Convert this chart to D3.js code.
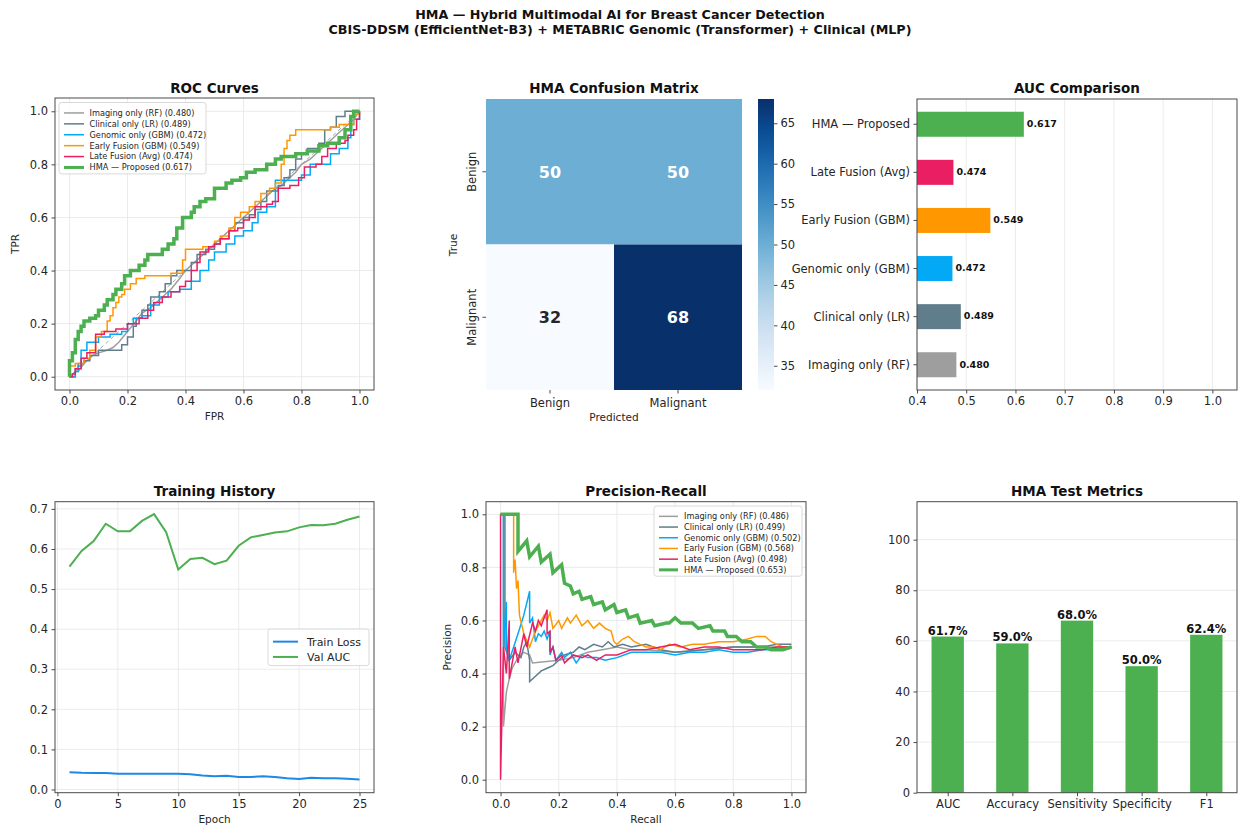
<!DOCTYPE html>
<html>
<head>
<meta charset="utf-8">
<script src="https://cdn.jsdelivr.net/npm/d3@7"></script>
<style>
body { margin: 0; background: #fff; }
svg { display: block; font-family: "DejaVu Sans", sans-serif; }
</style>
</head>
<body>
<svg id="fig" width="1239" height="825"></svg>
<script>
// ---- data ----
var models = ["Imaging only (RF)", "Clinical only (LR)", "Genomic only (GBM)", "Early Fusion (GBM)", "Late Fusion (Avg)", "HMA \u2014 Proposed"];
var modelColors = ["#9e9e9e", "#607d8b", "#03a9f4", "#ff9800", "#e91e63", "#4caf50"];
var rocAuc = [0.480, 0.489, 0.472, 0.549, 0.474, 0.617];
var prAp = [0.486, 0.499, 0.502, 0.568, 0.498, 0.653];

var rocImaging = [[0,0],[0.02,0.02],[0.03,0.02],[0.05,0.05],[0.08,0.08],[0.1,0.09],[0.13,0.1],[0.15,0.11],[0.17,0.13],[0.2,0.17],[0.23,0.21],[0.25,0.24],[0.28,0.26],[0.3,0.28],[0.33,0.31],[0.35,0.33],[0.38,0.37],[0.4,0.4],[0.43,0.43],[0.45,0.45],[0.48,0.48],[0.5,0.5],[0.53,0.53],[0.55,0.55],[0.58,0.58],[0.6,0.6],[0.63,0.63],[0.65,0.65],[0.68,0.68],[0.7,0.7],[0.73,0.72],[0.75,0.74],[0.78,0.77],[0.8,0.8],[0.83,0.82],[0.85,0.84],[0.88,0.87],[0.9,0.89],[0.93,0.92],[0.95,0.94],[0.98,0.97],[1,1]];
var rocClinical = [[0,0],[0.02,0.03],[0.03,0.05],[0.05,0.06],[0.07,0.08],[0.1,0.1],[0.17,0.1],[0.18,0.12],[0.2,0.15],[0.22,0.19],[0.23,0.22],[0.25,0.25],[0.27,0.27],[0.28,0.3],[0.31,0.32],[0.33,0.35],[0.35,0.38],[0.37,0.4],[0.4,0.4],[0.42,0.43],[0.44,0.46],[0.47,0.48],[0.5,0.5],[0.52,0.52],[0.55,0.55],[0.57,0.58],[0.6,0.6],[0.62,0.61],[0.64,0.63],[0.66,0.66],[0.68,0.7],[0.72,0.72],[0.74,0.75],[0.76,0.78],[0.78,0.82],[0.8,0.84],[0.82,0.86],[0.86,0.88],[0.88,0.93],[0.9,0.94],[0.92,0.98],[0.95,1.0],[1,1]];
var rocGenomic = [[0,0],[0.02,0.02],[0.03,0.04],[0.04,0.06],[0.04,0.1],[0.06,0.1],[0.06,0.13],[0.1,0.13],[0.1,0.15],[0.14,0.16],[0.18,0.17],[0.2,0.2],[0.22,0.22],[0.25,0.23],[0.28,0.27],[0.31,0.3],[0.34,0.32],[0.38,0.33],[0.42,0.36],[0.45,0.4],[0.48,0.44],[0.5,0.47],[0.54,0.5],[0.57,0.53],[0.6,0.55],[0.63,0.58],[0.65,0.62],[0.68,0.64],[0.71,0.67],[0.71,0.74],[0.77,0.74],[0.8,0.76],[0.83,0.8],[0.87,0.8],[0.9,0.84],[0.93,0.86],[0.96,0.9],[0.97,0.95],[0.98,0.97],[1,1]];
var rocEarly = [[0,0],[0,0.04],[0.02,0.04],[0.02,0.05],[0.05,0.05],[0.05,0.07],[0.07,0.07],[0.07,0.1],[0.09,0.1],[0.09,0.15],[0.11,0.15],[0.11,0.17],[0.13,0.17],[0.13,0.21],[0.14,0.21],[0.14,0.23],[0.15,0.23],[0.15,0.26],[0.16,0.26],[0.16,0.28],[0.17,0.28],[0.17,0.3],[0.18,0.3],[0.18,0.31],[0.19,0.31],[0.19,0.33],[0.21,0.33],[0.21,0.35],[0.23,0.35],[0.23,0.37],[0.26,0.37],[0.26,0.38],[0.35,0.38],[0.35,0.39],[0.39,0.39],[0.39,0.44],[0.4,0.44],[0.4,0.48],[0.46,0.48],[0.46,0.49],[0.5,0.49],[0.5,0.51],[0.52,0.51],[0.52,0.53],[0.55,0.53],[0.55,0.56],[0.57,0.56],[0.57,0.6],[0.59,0.6],[0.59,0.62],[0.62,0.62],[0.62,0.64],[0.64,0.64],[0.64,0.66],[0.66,0.66],[0.66,0.69],[0.69,0.69],[0.69,0.71],[0.71,0.71],[0.71,0.73],[0.73,0.73],[0.73,0.8],[0.74,0.8],[0.74,0.86],[0.75,0.86],[0.75,0.89],[0.76,0.89],[0.76,0.91],[0.78,0.91],[0.78,0.93],[0.9,0.93],[0.9,0.94],[0.93,0.94],[0.93,0.95],[0.98,0.95],[0.98,0.99],[1,0.99],[1,1]];
var rocLate = [[0,0],[0.01,0.01],[0.02,0.03],[0.04,0.03],[0.04,0.07],[0.06,0.07],[0.06,0.09],[0.08,0.09],[0.09,0.12],[0.09,0.16],[0.12,0.16],[0.12,0.17],[0.16,0.17],[0.16,0.18],[0.2,0.18],[0.2,0.2],[0.24,0.22],[0.27,0.25],[0.29,0.28],[0.32,0.3],[0.35,0.32],[0.38,0.34],[0.4,0.36],[0.42,0.4],[0.44,0.43],[0.45,0.47],[0.48,0.49],[0.5,0.5],[0.52,0.52],[0.55,0.55],[0.58,0.56],[0.6,0.59],[0.62,0.6],[0.64,0.64],[0.68,0.65],[0.7,0.66],[0.72,0.71],[0.76,0.72],[0.79,0.75],[0.81,0.79],[0.85,0.8],[0.87,0.83],[0.89,0.86],[0.92,0.88],[0.95,0.89],[0.96,0.91],[0.98,0.93],[0.99,0.97],[1,1]];
var rocHma = [[0,0],[0,0.06],[0.01,0.06],[0.01,0.09],[0.02,0.09],[0.02,0.14],[0.03,0.14],[0.03,0.17],[0.04,0.17],[0.04,0.19],[0.05,0.19],[0.05,0.21],[0.07,0.21],[0.07,0.22],[0.09,0.22],[0.09,0.23],[0.1,0.23],[0.1,0.25],[0.12,0.25],[0.12,0.27],[0.13,0.27],[0.13,0.29],[0.15,0.29],[0.15,0.31],[0.16,0.31],[0.16,0.33],[0.18,0.33],[0.18,0.35],[0.19,0.35],[0.19,0.38],[0.21,0.38],[0.21,0.4],[0.24,0.4],[0.24,0.42],[0.26,0.42],[0.26,0.44],[0.27,0.44],[0.27,0.46],[0.32,0.46],[0.32,0.48],[0.34,0.48],[0.34,0.5],[0.36,0.5],[0.36,0.52],[0.37,0.52],[0.37,0.56],[0.39,0.56],[0.39,0.6],[0.42,0.6],[0.42,0.62],[0.43,0.62],[0.43,0.64],[0.45,0.64],[0.45,0.66],[0.47,0.66],[0.47,0.67],[0.5,0.67],[0.5,0.71],[0.54,0.71],[0.54,0.73],[0.56,0.73],[0.56,0.74],[0.59,0.74],[0.59,0.75],[0.61,0.75],[0.61,0.77],[0.64,0.77],[0.64,0.78],[0.68,0.78],[0.68,0.8],[0.71,0.8],[0.71,0.82],[0.73,0.82],[0.73,0.83],[0.78,0.83],[0.78,0.84],[0.82,0.84],[0.82,0.85],[0.86,0.85],[0.86,0.87],[0.89,0.87],[0.89,0.88],[0.93,0.88],[0.93,0.9],[0.95,0.9],[0.95,0.93],[0.97,0.93],[0.97,0.98],[0.98,0.98],[0.98,1],[1,1]];

var prImaging = [[0,1],[0.01,1],[0.01,0.2],[0.02,0.33],[0.03,0.38],[0.04,0.42],[0.06,0.46],[0.08,0.48],[0.1,0.47],[0.11,0.44],[0.2,0.45],[0.25,0.46],[0.3,0.48],[0.35,0.49],[0.4,0.5],[0.45,0.49],[0.5,0.49],[0.6,0.48],[0.7,0.49],[0.8,0.5],[0.9,0.5],[1,0.5]];
var prClinical = [[0,1],[0.015,1],[0.015,0.5],[0.03,0.45],[0.05,0.48],[0.07,0.46],[0.08,0.5],[0.09,0.52],[0.1,0.45],[0.1,0.37],[0.12,0.39],[0.14,0.41],[0.16,0.42],[0.18,0.43],[0.2,0.45],[0.22,0.47],[0.25,0.48],[0.27,0.5],[0.29,0.49],[0.32,0.51],[0.35,0.5],[0.37,0.52],[0.39,0.5],[0.42,0.51],[0.45,0.5],[0.5,0.51],[0.55,0.49],[0.6,0.48],[0.7,0.49],[0.8,0.5],[0.9,0.5],[0.95,0.51],[1,0.51]];
var prGenomic = [[0,1],[0.01,1],[0.01,0.5],[0.02,0.67],[0.02,0.5],[0.03,0.45],[0.06,0.55],[0.08,0.62],[0.1,0.71],[0.1,0.59],[0.11,0.61],[0.12,0.52],[0.13,0.55],[0.14,0.54],[0.15,0.56],[0.16,0.53],[0.17,0.56],[0.17,0.47],[0.18,0.5],[0.19,0.45],[0.21,0.48],[0.22,0.46],[0.24,0.48],[0.26,0.44],[0.28,0.47],[0.3,0.46],[0.33,0.46],[0.36,0.45],[0.4,0.46],[0.45,0.48],[0.5,0.48],[0.55,0.48],[0.6,0.47],[0.65,0.48],[0.7,0.48],[0.75,0.49],[0.8,0.48],[0.85,0.48],[0.9,0.49],[0.95,0.49],[1,0.5]];
var prEarly = [[0,1],[0.045,1],[0.045,0.78],[0.05,0.83],[0.055,0.72],[0.06,0.75],[0.065,0.62],[0.08,0.55],[0.1,0.5],[0.12,0.56],[0.15,0.62],[0.16,0.6],[0.17,0.63],[0.18,0.57],[0.2,0.6],[0.21,0.57],[0.23,0.61],[0.24,0.59],[0.26,0.62],[0.28,0.58],[0.3,0.6],[0.32,0.57],[0.34,0.59],[0.36,0.57],[0.38,0.56],[0.39,0.52],[0.4,0.51],[0.42,0.53],[0.44,0.54],[0.46,0.52],[0.48,0.51],[0.5,0.5],[0.53,0.5],[0.55,0.49],[0.58,0.51],[0.62,0.5],[0.66,0.51],[0.7,0.51],[0.75,0.52],[0.8,0.52],[0.85,0.53],[0.88,0.54],[0.91,0.54],[0.93,0.52],[0.95,0.51],[0.97,0.5],[1,0.5]];
var prLate = [[0,1],[0,0],[0.01,0.5],[0.02,0.4],[0.03,0.6],[0.03,0.38],[0.05,0.5],[0.06,0.44],[0.08,0.55],[0.09,0.5],[0.11,0.59],[0.12,0.56],[0.13,0.6],[0.14,0.58],[0.16,0.64],[0.16,0.55],[0.17,0.56],[0.17,0.48],[0.18,0.5],[0.19,0.45],[0.21,0.47],[0.22,0.44],[0.25,0.47],[0.28,0.46],[0.3,0.47],[0.33,0.45],[0.36,0.47],[0.4,0.47],[0.45,0.49],[0.5,0.49],[0.55,0.5],[0.6,0.51],[0.65,0.49],[0.7,0.5],[0.75,0.5],[0.8,0.49],[0.85,0.49],[0.9,0.49],[0.95,0.5],[1,0.5]];
var prHma = [[0,1],[0.06,1],[0.06,0.86],[0.09,0.9],[0.1,0.84],[0.13,0.88],[0.14,0.82],[0.17,0.85],[0.18,0.78],[0.21,0.81],[0.22,0.74],[0.24,0.73],[0.25,0.7],[0.27,0.71],[0.28,0.68],[0.31,0.69],[0.32,0.66],[0.35,0.67],[0.36,0.64],[0.39,0.66],[0.4,0.63],[0.43,0.64],[0.44,0.61],[0.47,0.62],[0.48,0.59],[0.52,0.6],[0.53,0.58],[0.57,0.59],[0.58,0.59],[0.6,0.61],[0.62,0.59],[0.66,0.59],[0.68,0.57],[0.72,0.58],[0.73,0.56],[0.77,0.56],[0.78,0.54],[0.81,0.54],[0.83,0.52],[0.86,0.52],[0.88,0.5],[0.91,0.5],[0.93,0.49],[0.97,0.49],[1,0.5]];

var cmLabels = ["Benign", "Malignant"];
var cmValues = [[50, 50], [32, 68]];

var epochs = [1,2,3,4,5,6,7,8,9,10,11,12,13,14,15,16,17,18,19,20,21,22,23,24,25];
var trainLoss = [0.043,0.0415,0.041,0.041,0.039,0.039,0.039,0.039,0.039,0.039,0.038,0.035,0.033,0.034,0.031,0.031,0.033,0.031,0.028,0.026,0.029,0.028,0.028,0.027,0.025];
var valAuc = [0.556,0.595,0.62,0.663,0.644,0.644,0.67,0.687,0.642,0.549,0.575,0.578,0.562,0.571,0.608,0.629,0.635,0.641,0.644,0.654,0.66,0.659,0.663,0.673,0.681];

var metricNames = ["AUC", "Accuracy", "Sensitivity", "Specificity", "F1"];
var metricValues = [61.7, 59.0, 68.0, 50.0, 62.4];

var rocSeries = [rocImaging, rocClinical, rocGenomic, rocEarly, rocLate, rocHma];
var prSeries = [prImaging, prClinical, prGenomic, prEarly, prLate, prHma];

// ---- drawing ----
var svg = d3.select("#fig");
var INK = "#262626", SPINE = "#4a4a4a", GRID = "#e6e6e6";
var TICK_FS = 11.5;

svg.append("text").attr("x", 620).attr("y", 19).attr("text-anchor", "middle")
  .attr("font-size", 12.7).attr("font-weight", "bold").attr("fill", "#111")
  .text("HMA \u2014 Hybrid Multimodal AI for Breast Cancer Detection");
svg.append("text").attr("x", 620).attr("y", 34).attr("text-anchor", "middle")
  .attr("font-size", 12.7).attr("font-weight", "bold").attr("fill", "#111")
  .text("CBIS-DDSM (EfficientNet-B3) + METABRIC Genomic (Transformer) + Clinical (MLP)");

function title(x, y, t) {
  svg.append("text").attr("x", x).attr("y", y).attr("text-anchor", "middle")
    .attr("font-size", 13.5).attr("font-weight", "bold").attr("fill", "#111").text(t);
}

function styleAxis(g) {
  g.select(".domain").remove();
  g.selectAll(".tick line").attr("stroke", SPINE);
  g.selectAll(".tick text").attr("fill", INK).attr("font-size", TICK_FS).attr("font-family", "DejaVu Sans");
}

// draws grid, frame and ticks for a panel
function panel(x, y, o) {
  var g = svg.append("g");
  var x0 = x.range()[0], x1 = x.range()[1], y0 = y.range()[0], y1 = y.range()[1];
  if (o.gridX) g.selectAll(null).data(o.xt).enter().append("line")
    .attr("x1", d => x(d)).attr("x2", d => x(d)).attr("y1", y0).attr("y2", y1)
    .attr("stroke", GRID).attr("stroke-width", 0.8);
  if (o.gridY) g.selectAll(null).data(o.yt).enter().append("line")
    .attr("y1", d => y(d)).attr("y2", d => y(d)).attr("x1", x0).attr("x2", x1)
    .attr("stroke", GRID).attr("stroke-width", 0.8);
  var plot = svg.append("g");
  var top = svg.append("g");
  top.append("rect").attr("x", x0).attr("y", y1).attr("width", x1 - x0).attr("height", y0 - y1)
    .attr("fill", "none").attr("stroke", SPINE).attr("stroke-width", 1);
  var ax = top.append("g").attr("transform", "translate(0," + y0 + ")")
    .call(d3.axisBottom(x).tickValues(o.xt).tickFormat(o.xf || null).tickSize(3.5).tickPadding(3.5));
  styleAxis(ax);
  if (o.yt) {
    var ay = top.append("g").attr("transform", "translate(" + x0 + ",0)")
      .call(d3.axisLeft(y).tickValues(o.yt).tickFormat(o.yf || null).tickSize(3.5).tickPadding(3.5));
    styleAxis(ay);
  }
  if (o.xl) top.append("text").attr("x", (x0 + x1) / 2).attr("y", o.xly).attr("text-anchor", "middle")
    .attr("font-size", 10.5).attr("fill", INK).text(o.xl);
  if (o.yl) top.append("text").attr("transform", "translate(" + o.ylx + "," + (y0 + y1) / 2 + ") rotate(-90)")
    .attr("text-anchor", "middle").attr("font-size", 10.5).attr("fill", INK).text(o.yl);
  return { plot: plot, top: top };
}

function legend(g, x, y, w, rowH, items, fs, lineLen, textGap) {
  var h = items.length * rowH + 6;
  g.append("rect").attr("x", x).attr("y", y).attr("width", w).attr("height", h).attr("rx", 2.5)
    .attr("fill", "#fff").attr("fill-opacity", 0.85).attr("stroke", "#cfcfcf").attr("stroke-width", 0.8);
  items.forEach(function(it, i) {
    var cy = y + 5 + rowH * (i + 0.5);
    g.append("line").attr("x1", x + 5).attr("x2", x + 5 + lineLen).attr("y1", cy).attr("y2", cy)
      .attr("stroke", it.color).attr("stroke-width", it.w);
    g.append("text").attr("x", x + 5 + lineLen + textGap).attr("y", cy).attr("dy", "0.35em")
      .attr("font-size", fs).attr("fill", INK).text(it.label);
  });
}

var ticks01 = [0, 0.2, 0.4, 0.6, 0.8, 1.0];
var f1 = d3.format(".1f");

// ROC Curves
(function() {
  var x = d3.scaleLinear().domain([-0.05, 1.05]).range([55, 374]);
  var y = d3.scaleLinear().domain([-0.05, 1.05]).range([390, 98]);
  title(214.5, 92.5, "ROC Curves");
  var p = panel(x, y, { xt: ticks01, yt: ticks01, xf: f1, yf: f1, gridX: true, gridY: true,
    xl: "FPR", xly: 420, yl: "TPR", ylx: 19 });
  p.plot.append("line").attr("x1", x(0)).attr("y1", y(0)).attr("x2", x(1)).attr("y2", y(1))
    .attr("stroke", "#000").attr("stroke-opacity", 0.35).attr("stroke-dasharray", "4,3").attr("stroke-width", 1);
  rocSeries.forEach(function(s, i) {
    var line = d3.line().x(d => x(d[0])).y(d => y(d[1]))
      .curve(i === 0 ? d3.curveLinear : d3.curveStepAfter);
    p.plot.append("path").attr("d", line(s)).attr("fill", "none")
      .attr("stroke", modelColors[i]).attr("stroke-width", i === 5 ? 3.5 : 1.5)
      .attr("stroke-linejoin", "miter");
  });
  legend(p.top, 59, 102.5, 147, 10.9, models.map((m, i) => ({
    label: m + " (" + rocAuc[i].toFixed(3) + ")", color: modelColors[i], w: i === 5 ? 3 : 1.5 })), 8.2, 20, 5.5);
})();

// Confusion matrix
(function() {
  var x = d3.scaleBand().domain([0, 1]).range([486, 742]);
  var y = d3.scaleBand().domain([0, 1]).range([99, 390]);
  var color = d3.scaleSequential(d3.interpolateBlues).domain([32, 68]);
  title(614, 92.5, "HMA Confusion Matrix");
  var g = svg.append("g");
  cmValues.forEach(function(row, r) {
    row.forEach(function(v, c) {
      g.append("rect").attr("x", x(c)).attr("y", y(r)).attr("width", x.bandwidth()).attr("height", y.bandwidth())
        .attr("fill", color(v));
      g.append("text").attr("x", x(c) + x.bandwidth() / 2).attr("y", y(r) + y.bandwidth() / 2).attr("dy", "0.36em")
        .attr("text-anchor", "middle").attr("font-size", 16).attr("font-weight", "bold")
        .attr("fill", v > 44 ? "#fff" : INK).text(v);
    });
  });
  cmLabels.forEach(function(l, i) {
    var cx = x(i) + x.bandwidth() / 2, cy = y(i) + y.bandwidth() / 2;
    g.append("line").attr("x1", cx).attr("x2", cx).attr("y1", 390).attr("y2", 393.5).attr("stroke", SPINE);
    g.append("text").attr("x", cx).attr("y", 407).attr("text-anchor", "middle").attr("font-size", TICK_FS).attr("fill", INK).text(l);
    g.append("line").attr("x1", 482.5).attr("x2", 486).attr("y1", cy).attr("y2", cy).attr("stroke", SPINE);
    g.append("text").attr("transform", "translate(476," + cy + ") rotate(-90)").attr("text-anchor", "middle")
      .attr("font-size", TICK_FS).attr("fill", INK).text(l);
  });
  g.append("text").attr("x", 614).attr("y", 421).attr("text-anchor", "middle").attr("font-size", 10.5).attr("fill", INK).text("Predicted");
  g.append("text").attr("transform", "translate(457,245) rotate(-90)").attr("text-anchor", "middle")
    .attr("font-size", 10.5).attr("fill", INK).text("True");
  // colorbar
  var cb = d3.scaleLinear().domain([32, 68]).range([390, 99]);
  var grad = svg.append("defs").append("linearGradient").attr("id", "cbg")
    .attr("x1", 0).attr("y1", 1).attr("x2", 0).attr("y2", 0);
  d3.range(0, 1.001, 0.1).forEach(function(t) {
    grad.append("stop").attr("offset", t).attr("stop-color", d3.interpolateBlues(t));
  });
  g.append("rect").attr("x", 758).attr("y", 99).attr("width", 16).attr("height", 291).attr("fill", "url(#cbg)");
  var ca = g.append("g").attr("transform", "translate(774,0)")
    .call(d3.axisRight(cb).tickValues([35, 40, 45, 50, 55, 60, 65]).tickSize(3.5).tickPadding(3));
  styleAxis(ca);
})();

// AUC comparison
(function() {
  var x = d3.scaleLinear().domain([0.4, 1.05]).range([917, 1237]);
  var y = d3.scaleLinear().domain([-0.525, 5.525]).range([390, 99]);
  title(1077, 92.5, "AUC Comparison");
  var xt = [0.4, 0.5, 0.6, 0.7, 0.8, 0.9, 1.0];
  var p = panel(x, y, { xt: xt, xf: f1, gridX: true });
  var bh = y(0) - y(0.52);
  models.forEach(function(m, i) {
    p.plot.append("rect").attr("x", x(0.4)).attr("y", y(i) - bh / 2).attr("width", x(rocAuc[i]) - x(0.4))
      .attr("height", bh).attr("fill", modelColors[i]);
    p.top.append("text").attr("x", x(rocAuc[i]) + 3).attr("y", y(i)).attr("dy", "0.3em")
      .attr("font-size", 9.5).attr("font-weight", "bold").attr("fill", "#111").text(rocAuc[i].toFixed(3));
    p.top.append("line").attr("x1", 913.5).attr("x2", 917).attr("y1", y(i)).attr("y2", y(i)).attr("stroke", SPINE);
    p.top.append("text").attr("x", 910).attr("y", y(i)).attr("dy", "0.35em").attr("text-anchor", "end")
      .attr("font-size", TICK_FS).attr("fill", INK).text(m);
  });
})();

// Training history
(function() {
  var x = d3.scaleLinear().domain([-0.2, 26.2]).range([55, 374]);
  var y = d3.scaleLinear().domain([-0.008, 0.718]).range([792.7, 501.7]);
  title(214.5, 495.5, "Training History");
  var p = panel(x, y, { xt: [0, 5, 10, 15, 20, 25], yt: [0, 0.1, 0.2, 0.3, 0.4, 0.5, 0.6, 0.7],
    yf: f1, gridX: true, gridY: true, xl: "Epoch", xly: 823 });
  var line = d3.line().x((d, i) => x(epochs[i])).y(d => y(d));
  p.plot.append("path").attr("d", line(trainLoss)).attr("fill", "none").attr("stroke", "#1e88e5").attr("stroke-width", 2);
  p.plot.append("path").attr("d", line(valAuc)).attr("fill", "none").attr("stroke", "#4caf50").attr("stroke-width", 2);
  legend(p.top, 268, 629, 101, 15.3, [
    { label: "Train Loss", color: "#1e88e5", w: 2 },
    { label: "Val AUC", color: "#4caf50", w: 2 }], 11, 25, 9);
})();

// Precision-Recall
(function() {
  var x = d3.scaleLinear().domain([-0.05, 1.05]).range([486, 806]);
  var y = d3.scaleLinear().domain([-0.049, 1.0475]).range([792.7, 501.7]);
  title(646, 495.5, "Precision-Recall");
  var p = panel(x, y, { xt: ticks01, yt: ticks01, xf: f1, yf: f1, gridX: true, gridY: true,
    xl: "Recall", xly: 823, yl: "Precision", ylx: 451 });
  var line = d3.line().x(d => x(d[0])).y(d => y(d[1]));
  prSeries.forEach(function(s, i) {
    p.plot.append("path").attr("d", line(s)).attr("fill", "none")
      .attr("stroke", modelColors[i]).attr("stroke-width", i === 5 ? 3.5 : 1.5).attr("stroke-linejoin", "miter");
  });
  legend(p.top, 654, 506, 148, 10.7, models.map((m, i) => ({
    label: m + " (" + prAp[i].toFixed(3) + ")", color: modelColors[i], w: i === 5 ? 3 : 1.5 })), 8.2, 19, 6);
})();

// Test metrics
(function() {
  var x = d3.scaleLinear().domain([-0.475, 4.475]).range([917, 1237]);
  var y = d3.scaleLinear().domain([0, 115]).range([792.7, 501.7]);
  title(1077, 495.5, "HMA Test Metrics");
  var p = panel(x, y, { xt: [0, 1, 2, 3, 4], xf: i => metricNames[i], yt: [0, 20, 40, 60, 80, 100], gridY: true });
  var bw = x(0.25) - x(0);
  metricValues.forEach(function(v, i) {
    p.plot.append("rect").attr("x", x(i) - bw).attr("y", y(v)).attr("width", 2 * bw).attr("height", y(0) - y(v))
      .attr("fill", "#4caf50");
    p.top.append("text").attr("x", x(i)).attr("y", y(v) - 2).attr("text-anchor", "middle")
      .attr("font-size", 11.5).attr("font-weight", "bold").attr("fill", "#111").text(v.toFixed(1) + "%");
  });
})();
</script>
</body>
</html>
